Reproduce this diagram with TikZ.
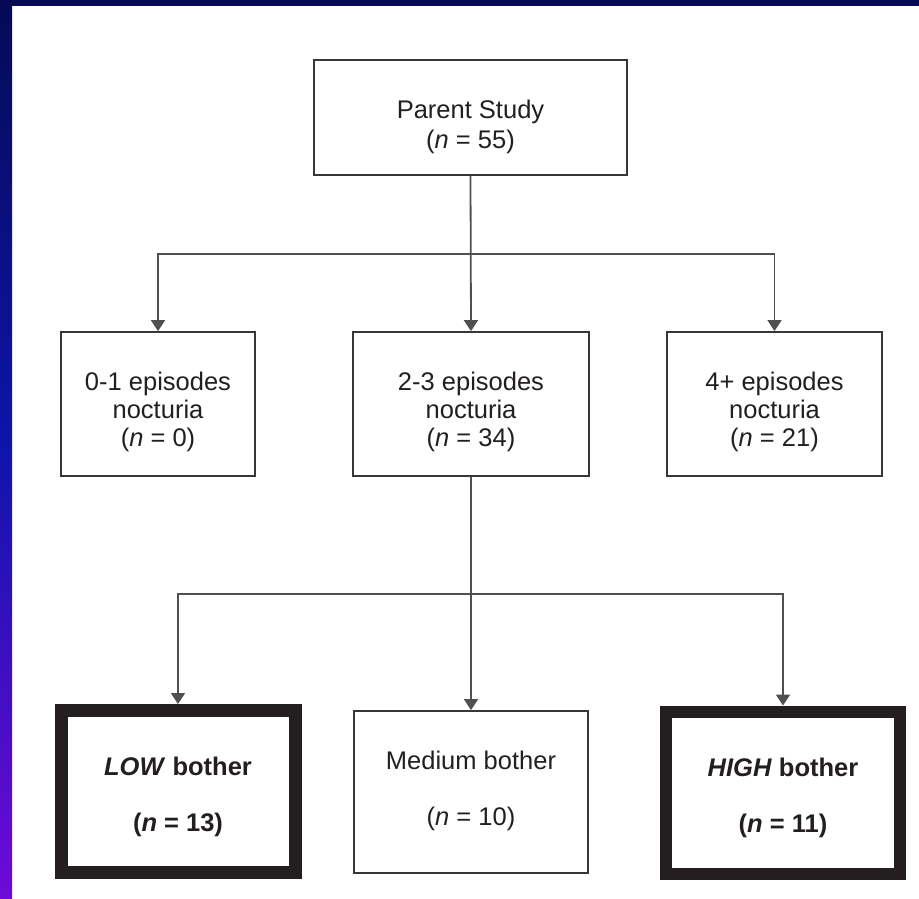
\documentclass[tikz,border=0pt]{standalone}
\usepackage{fontspec}
\setmainfont{Liberation Sans}
\usetikzlibrary{arrows.meta}
\definecolor{navy}{RGB}{5,10,85}
\definecolor{slateblue}{RGB}{15,20,170}
\definecolor{violetblue}{RGB}{110,10,215}
\definecolor{ink}{RGB}{35,31,32}
\definecolor{boxline}{RGB}{55,55,55}
\definecolor{wire}{RGB}{80,80,80}
\tikzset{
    stagebox/.style={draw=boxline, line width=1.8pt, inner sep=0pt,
        minimum width=#1, minimum height=144pt},
    botherbox/.style={stagebox=234pt, minimum height=162pt},
    keybox/.style={botherbox, draw=ink},
    boxtext/.style={align=center, text=ink, inner sep=0pt,
        font=\fontsize{25.5}{28}\selectfont},
    wireline/.style={draw=wire, line width=1.8pt},
    wirearrow/.style={wireline, -{Triangle[length=11pt,width=14pt]}}
}
\begin{document}
\begin{tikzpicture}[x=1pt,y=-1pt]
        % background frame
        \fill[white] (0,0) rectangle (919,898);
        \shade[top color=navy, bottom color=violetblue, middle color=slateblue] (0,0) rectangle (12,898);
        \fill[navy] (0,0) rectangle (919,6);
        \useasboundingbox (0,0) rectangle (919,898);
        % parent study
        \node[stagebox=313pt, minimum height=115pt,
            label={[boxtext, font=\fontsize{25.5}{30}\selectfont, yshift=-9pt]center:{Parent Study\\(\textit{n} = 55)}}]
            (parent) at (470.5,117.5) {};
        % nocturia groups
        \node[stagebox=194pt, label={[boxtext, yshift=-8pt]center:{0-1 episodes\\nocturia\\(\textit{n} = 0)}}]
            (noc01) at (158,404) {};
        \node[stagebox=236pt, label={[boxtext, yshift=-8pt]center:{2-3 episodes\\nocturia\\(\textit{n} = 34)}}]
            (noc23) at (471,404) {};
        \node[stagebox=215pt, label={[boxtext, yshift=-8pt]center:{4+ episodes\\nocturia\\(\textit{n} = 21)}}]
            (noc4) at (774.5,404) {};
        % bother groups
        \node[keybox, line width=13pt,
            label={[boxtext, yshift=-5pt]center:{\textbf{\textit{LOW} bother}\\[28pt]\textbf{(\textit{n} = 13)}}}]
            (low) at (178,791.5) {};
        \node[botherbox, label={[boxtext, yshift=1pt]center:{Medium bother\\[28pt](\textit{n} = 10)}}]
            (medium) at (471,792) {};
        \node[keybox, line width=12pt,
            label={[boxtext, yshift=-5pt]center:{\textbf{\textit{HIGH} bother}\\[28pt]\textbf{(\textit{n} = 11)}}}]
            (high) at (783,792.5) {};
        % connectors
        \coordinate (split1) at (471,254);
        \coordinate (split2) at (471,594);
        \draw[wirearrow] (parent.south) -- (noc23.north);
        \draw[wirearrow] (split1) -| (noc01.north);
        \draw[wirearrow] (split1) -| (noc4.north);
        \draw[wirearrow] (noc23.south) -- (medium.north);
        \draw[wirearrow] (split2) -| (low.north);
        \draw[wirearrow] (split2) -| (high.north);
\end{tikzpicture}
\end{document}
